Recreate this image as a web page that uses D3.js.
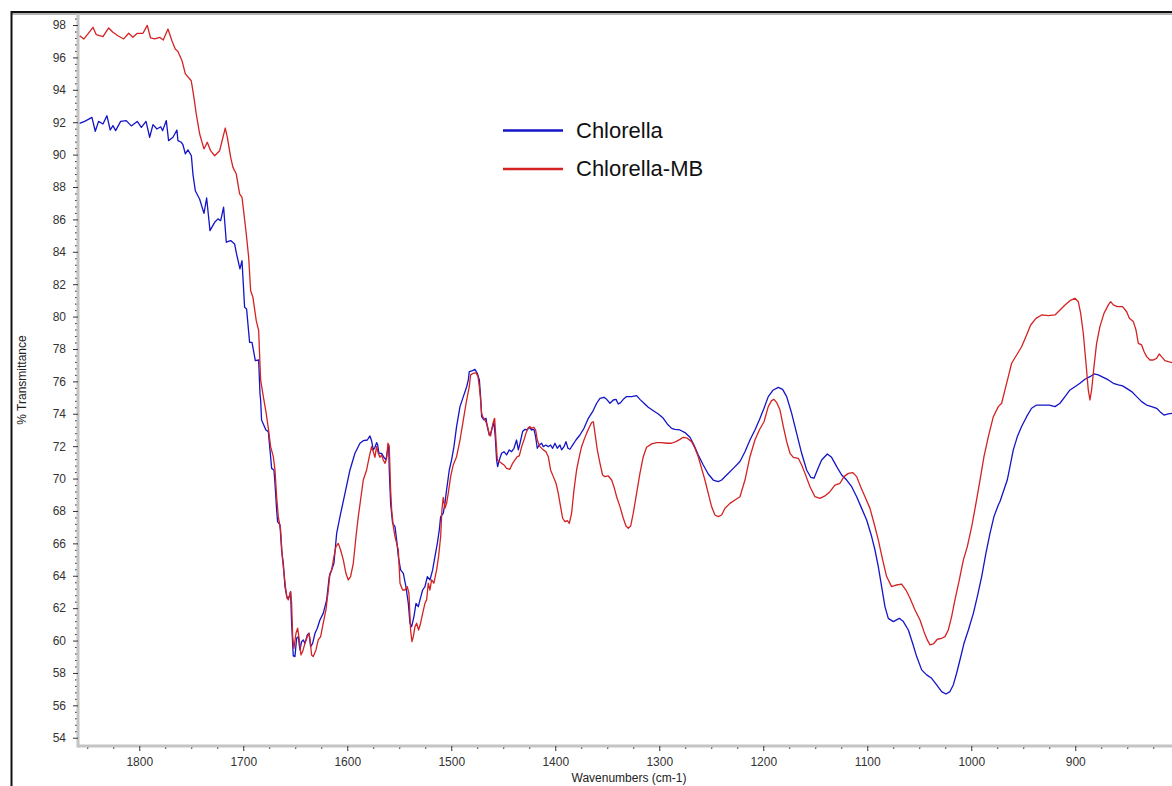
<!DOCTYPE html>
<html>
<head>
<meta charset="utf-8">
<script src="https://cdn.jsdelivr.net/npm/d3@7"></script>
<style>
  body { margin: 0; background: #fff; }
  svg { display: block; }
  text { font-family: Arial, "Liberation Sans", sans-serif; }
</style>
</head>
<body>
<svg id="chart" width="1172" height="786"></svg>
<script>
// FTIR spectra: [wavenumber (cm-1), % transmittance]
const chlorella = [
  [1857.3,91.93],[1852.5,92.05],[1845.5,92.30],[1842.3,91.44],[1839.1,92.05],[1834.9,91.89],
  [1831.1,92.40],[1827.9,91.52],[1825.3,91.79],[1822.7,91.48],[1817.9,92.05],[1812.5,92.10],
  [1807.7,91.77],[1801.9,92.05],[1798.0,91.68],[1793.5,92.05],[1790.0,91.07],[1786.8,91.85],
  [1783.0,91.58],[1779.4,91.72],[1777.5,91.48],[1774.0,92.10],[1771.8,90.86],[1767.6,91.07],
  [1763.8,91.52],[1762.8,90.86],[1759.6,90.76],[1758.0,90.61],[1755.7,90.04],[1753.2,90.29],
  [1749.9,89.93],[1748.4,88.80],[1746.1,87.77],[1741.9,87.24],[1737.8,86.37],[1735.2,87.32],
  [1732.0,85.31],[1727.5,85.82],[1724.3,86.03],[1721.7,85.92],[1718.9,86.75],[1716.3,84.59],
  [1712.1,84.69],[1708.3,84.48],[1706.4,83.86],[1703.2,82.94],[1701.2,83.45],[1698.7,80.57],
  [1696.8,80.47],[1693.9,78.41],[1691.6,78.41],[1688.4,77.28],[1685.2,77.32],[1683.9,75.22],
  [1683.3,74.85],[1682.4,73.62],[1678.2,73.00],[1675.9,72.90],[1674.3,71.77],[1672.7,70.63],
  [1670.5,70.53],[1669.5,69.71],[1667.9,68.06],[1667.0,67.34],[1664.7,67.14],[1663.1,65.59],
  [1661.5,64.77],[1659.9,63.33],[1657.7,62.61],[1655.7,62.71],[1654.5,63.02],[1653.5,61.07],
  [1651.9,59.05],[1650.3,59.01],[1648.7,60.14],[1647.1,60.24],[1645.5,59.42],[1643.9,59.93],
  [1642.3,60.04],[1640.7,59.83],[1638.4,60.35],[1636.8,60.45],[1635.2,59.63],[1633.3,59.83],
  [1631.0,60.45],[1628.8,60.76],[1626.3,61.27],[1623.1,61.68],[1619.8,62.51],[1617.3,63.95],
  [1615.0,64.36],[1612.8,64.77],[1610.2,66.62],[1607.0,67.65],[1602.2,69.09],[1597.4,70.53],
  [1592.6,71.56],[1587.8,72.18],[1584.6,72.34],[1580.7,72.38],[1578.2,72.63],[1576.6,72.34],
  [1575.0,71.77],[1573.4,71.93],[1571.8,72.22],[1570.8,72.08],[1569.5,71.56],[1567.0,71.56],
  [1564.7,71.31],[1562.8,71.15],[1561.5,71.66],[1560.2,72.08],[1559.6,70.53],[1558.3,68.47],
  [1556.4,67.24],[1554.1,67.03],[1552.5,66.21],[1550.9,65.18],[1548.7,64.36],[1546.1,64.15],
  [1543.6,63.33],[1541.3,62.30],[1539.7,61.07],[1538.1,60.86],[1535.9,61.48],[1533.9,62.30],
  [1531.7,62.09],[1530.1,62.51],[1527.5,63.12],[1525.3,63.33],[1523.0,63.95],[1520.5,63.74],
  [1517.9,64.36],[1515.7,65.18],[1513.4,66.00],[1511.5,66.83],[1510.2,67.65],[1507.7,67.86],
  [1506.1,68.47],[1504.5,69.30],[1501.9,70.53],[1499.7,71.15],[1497.4,71.97],[1494.9,73.21],
  [1491.6,74.44],[1488.4,75.06],[1485.2,75.67],[1483.6,76.09],
  [1482.7,76.60],[1479.5,76.66],[1477.2,76.74],[1475.0,76.50],[1473.0,76.09],[1471.8,75.06],
  [1470.8,73.82],[1468.6,73.62],[1466.6,73.72],[1465.4,73.21],[1463.4,72.69],[1462.2,72.79],
  [1460.2,73.21],[1459.0,73.51],[1457.7,72.59],[1456.4,71.15],[1455.4,70.74],[1453.8,71.15],
  [1451.6,71.56],[1449.3,71.66],[1446.8,71.46],[1444.2,71.77],[1442.0,71.66],[1439.7,71.87],
  [1437.2,72.38],[1435.5,71.77],[1433.9,72.18],[1431.4,72.90],[1429.1,73.04],[1426.9,73.00],
  [1425.0,73.17],[1422.7,73.00],[1420.5,73.04],[1418.9,72.59],[1417.3,71.87],[1415.4,72.07],
  [1413.1,72.18],[1411.5,71.97],[1409.0,72.07],[1406.7,71.97],[1404.5,72.07],[1402.5,71.87],
  [1400.3,72.18],[1398.1,71.87],[1395.5,72.07],[1393.9,71.77],[1391.6,71.97],[1389.7,72.28],
  [1387.8,71.87],[1385.9,71.81],[1383.3,72.07],[1380.1,72.38],[1376.3,72.69],[1372.4,73.10],
  [1368.2,73.72],[1364.1,74.13],[1360.2,74.65],[1357.0,74.95],[1353.2,75.02],[1350.6,74.89],
  [1347.4,74.65],[1344.2,74.85],[1341.6,74.89],[1339.4,74.60],[1337.2,74.69],[1334.6,74.89],
  [1331.4,75.06],[1326.6,75.06],[1321.8,75.12],[1318.6,74.89],[1314.7,74.65],[1310.6,74.40],
  [1305.7,74.19],[1300.9,73.99],[1296.1,73.72],[1292.3,73.37],[1288.1,73.10],[1284.9,73.04],
  [1280.1,73.00],[1275.3,72.84],[1270.5,72.55],[1266.6,72.07],[1262.5,71.46],[1257.7,70.84],
  [1252.9,70.28],[1248.1,69.91],[1243.3,69.81],[1240.0,69.91],[1235.2,70.22],[1228.8,70.63],
  [1222.4,71.05],[1217.6,71.66],[1212.8,72.38],[1208.0,73.00],[1203.8,73.62],
  [1199.3,74.34],[1195.2,75.06],[1190.4,75.47],[1185.5,75.63],[1181.4,75.51],[1177.5,75.06],
  [1172.7,74.03],[1167.9,72.79],[1163.1,71.56],[1158.3,70.53],[1154.4,70.08],[1151.2,70.02],
  [1148.0,70.53],[1143.9,71.15],[1138.4,71.52],[1134.3,71.31],[1129.4,70.74],[1124.6,70.22],
  [1119.8,69.91],[1115.0,69.50],[1110.2,68.88],[1105.4,68.16],[1100.6,67.44],[1095.8,66.42],
  [1092.6,65.59],[1089.4,64.56],[1086.2,63.33],[1083.0,62.09],[1079.8,61.37],[1074.9,61.17],
  [1069.2,61.37],[1065.3,61.17],[1060.5,60.65],[1056.4,59.83],[1052.5,59.01],[1047.7,58.19],
  [1042.9,57.88],[1038.1,57.67],[1033.3,57.26],[1028.5,56.85],[1024.3,56.70],[1020.5,56.85],
  [1017.3,57.26],[1014.1,57.98],[1010.9,58.80],[1007.0,59.83],[1002.8,60.65],[998.0,61.68],
  [994.2,62.71],[990.0,63.95],[985.9,65.39],[982.0,66.62],[978.2,67.65],[974.0,68.37],
  [972.4,68.58],[965.4,69.91],[962.8,70.74],[959.6,71.77],[955.7,72.59],[951.6,73.21],
  [946.8,73.82],[942.0,74.34],[937.2,74.54],[930.7,74.54],[925.0,74.54],[919.5,74.44],
  [914.7,74.65],[909.9,75.06],[905.1,75.47],[900.3,75.67],[895.5,75.88],[890.7,76.13],
  [885.9,76.29],[882.0,76.46],[877.9,76.40],[873.1,76.25],[868.2,76.09],[863.4,75.88],
  [858.6,75.78],[854.5,75.72],[850.6,75.57],[845.8,75.37],[841.0,75.06],[836.2,74.75],
  [831.4,74.54],[826.6,74.44],[821.8,74.34],[818.6,74.13],[814.7,73.92],[810.6,73.99],
  [807.0,74.03]
];

const chlorellaMB = [
  [1857.3,97.34],[1853.2,97.14],[1849.3,97.45],[1844.5,97.86],[1841.3,97.40],[1834.9,97.28],
  [1829.4,97.82],[1825.3,97.55],[1820.5,97.34],[1815.0,97.14],[1810.2,97.49],[1806.1,97.24],
  [1801.9,97.49],[1796.4,97.49],[1792.3,97.98],[1789.1,97.20],[1785.2,97.14],[1780.4,97.24],
  [1776.9,97.07],[1772.4,97.75],[1768.6,97.03],[1765.4,96.52],[1762.8,96.37],[1758.9,95.80],
  [1755.7,94.98],[1750.0,94.56],[1747.7,93.64],[1745.2,92.51],[1741.9,91.27],[1737.8,90.35],
  [1734.6,90.76],[1731.4,90.24],[1727.5,89.93],[1722.7,90.24],[1719.5,91.07],[1717.3,91.64],
  [1715.3,91.07],[1712.1,89.83],[1709.9,89.21],[1706.7,88.80],[1703.5,87.57],[1701.2,87.36],
  [1699.3,86.33],[1697.1,85.10],[1694.8,83.66],[1692.9,81.60],[1690.7,81.19],[1687.5,79.75],
  [1685.2,79.13],
  [1683.3,76.09],[1680.7,75.06],[1678.2,74.13],[1675.9,73.10],[1673.7,71.97],[1671.1,71.35],
  [1669.5,70.53],[1667.9,68.88],[1666.3,67.65],[1664.1,66.83],[1662.5,65.18],[1660.5,63.95],
  [1658.3,62.71],[1656.7,62.51],[1654.5,63.02],[1653.5,62.30],[1652.5,60.24],[1651.3,59.52],
  [1649.3,60.45],[1647.7,60.76],[1646.1,60.04],[1644.5,59.11],[1642.9,59.32],[1640.7,59.83],
  [1638.4,60.24],[1636.8,60.45],[1635.9,60.14],[1634.3,59.11],[1632.7,59.01],[1630.1,59.42],
  [1627.9,60.04],[1625.6,60.24],[1623.1,61.07],[1620.5,61.89],[1618.2,63.12],[1616.6,64.15],
  [1615.0,64.36],[1612.8,65.18],[1610.9,65.80],[1608.6,66.00],[1606.4,65.59],[1603.8,64.98],
  [1601.3,64.15],[1599.0,63.74],[1596.8,63.95],[1594.2,64.77],[1591.6,66.42],[1589.4,67.65],
  [1587.2,68.68],[1584.6,69.91],[1581.4,70.53],[1578.8,71.35],[1576.6,71.97],[1575.0,71.66],
  [1573.4,71.31],[1571.8,71.97],[1570.2,71.56],[1568.6,71.31],[1567.0,71.46],[1565.4,71.15],
  [1563.7,70.94],[1562.1,71.25],[1560.9,72.18],[1559.6,71.97],[1558.3,69.30],[1557.3,68.06],
  [1555.7,67.03],[1554.1,66.42],[1552.5,66.00],[1550.9,65.59],[1549.3,63.54],[1546.8,63.12],
  [1544.5,63.12],[1542.3,63.33],[1540.7,62.92],[1539.1,60.65],[1537.8,59.93],[1536.5,60.24],
  [1534.9,60.86],[1533.3,61.07],[1531.4,60.65],[1529.5,61.07],[1527.5,61.68],[1525.3,62.30],
  [1523.7,62.51],[1522.1,63.54],[1520.5,63.12],[1518.9,63.74],[1516.7,63.54],[1514.1,64.36],
  [1512.2,65.18],[1510.2,66.42],[1509.0,68.06],[1507.7,68.84],[1506.1,68.17],[1504.5,68.47],
  [1502.9,69.09],[1500.6,70.12],[1498.1,70.84],[1494.9,71.35],[1491.6,72.38],[1488.4,73.62],
  [1485.2,74.85],[1482.7,75.67],
  [1481.4,76.40],[1478.8,76.50],[1476.2,76.54],[1474.3,76.29],[1473.0,75.67],[1471.8,74.85],
  [1470.8,74.03],[1469.8,73.82],[1467.6,73.62],[1465.4,73.31],[1463.4,72.69],[1462.2,72.63],
  [1460.6,73.21],[1459.0,73.62],[1458.3,73.72],[1457.0,72.38],[1455.7,71.15],[1453.8,71.05],
  [1451.6,70.94],[1449.3,70.84],[1446.8,70.63],[1443.6,70.57],[1441.0,70.94],[1438.8,71.15],
  [1436.5,71.35],[1434.6,71.40],[1432.3,71.97],[1430.1,72.38],[1428.2,72.79],[1426.3,73.10],
  [1424.3,73.21],[1422.7,73.10],[1420.5,73.17],[1418.9,73.00],[1417.3,72.38],[1414.7,71.97],
  [1411.5,71.77],[1408.9,71.66],[1406.7,71.35],[1404.5,70.53],[1401.9,70.12],[1399.3,69.71],
  [1397.1,69.09],[1394.9,68.27],[1392.9,67.55],[1390.7,67.34],[1388.4,67.40],[1386.5,67.24],
  [1384.3,67.86],[1382.0,69.30],[1379.5,70.53],[1376.9,71.35],[1374.7,71.97],[1372.4,72.38],
  [1369.9,72.79],[1367.3,73.17],[1365.1,73.45],[1363.4,73.51],[1361.8,72.79],[1359.6,71.77],
  [1357.0,70.94],[1354.5,70.22],[1352.2,70.12],[1349.0,70.16],[1345.8,69.91],[1343.6,69.50],
  [1341.0,68.88],[1337.8,68.27],[1334.6,67.55],[1332.0,67.07],[1329.8,66.93],[1327.5,67.07],
  [1325.0,67.86],[1321.8,69.09],[1318.6,70.32],[1315.4,71.35],[1312.2,71.93],[1307.3,72.14],
  [1302.5,72.22],[1297.7,72.22],[1292.9,72.18],[1288.1,72.18],[1284.0,72.28],[1280.1,72.42],
  [1276.9,72.55],[1273.1,72.49],[1268.9,72.28],[1265.7,71.87],[1262.5,71.35],[1259.3,70.63],
  [1256.1,69.91],[1252.9,69.09],[1249.7,68.27],[1246.5,67.75],[1243.3,67.65],[1240.0,67.75],
  [1236.8,68.17],[1232.0,68.47],[1227.2,68.68],[1222.4,68.88],[1217.6,69.91],[1212.8,71.35],
  [1208.0,72.38],[1203.8,73.00],
  [1199.3,73.51],[1195.2,74.44],[1192.0,74.81],[1189.7,74.89],[1187.1,74.69],[1183.9,74.23],
  [1180.7,73.21],[1177.5,72.28],[1174.3,71.56],[1171.1,71.31],[1166.3,71.25],[1163.1,70.84],
  [1159.9,70.32],[1155.1,69.50],[1150.3,68.88],[1145.5,68.78],[1140.7,68.93],[1135.9,69.19],
  [1131.1,69.60],[1126.2,69.71],[1122.4,70.12],[1118.2,70.32],[1114.1,70.37],[1110.2,70.12],
  [1106.4,69.50],[1102.2,68.88],[1097.4,68.16],[1093.5,67.24],[1089.4,66.21],[1085.2,64.98],
  [1081.4,63.95],[1076.6,63.33],[1071.8,63.43],[1067.0,63.49],[1062.8,63.12],[1058.9,62.61],
  [1054.1,61.89],[1049.3,61.27],[1045.5,60.55],[1042.3,60.04],[1039.7,59.73],[1036.5,59.79],
  [1032.6,60.08],[1028.5,60.14],[1025.3,60.24],[1022.1,60.65],[1018.9,61.48],[1015.7,62.51],
  [1011.5,63.74],[1007.6,64.98],[1003.8,65.80],[999.6,67.03],[995.5,68.47],[991.6,69.91],
  [987.8,71.35],[983.6,72.59],[978.8,73.82],[974.0,74.44],
  [970.8,74.65],[967.6,75.47],[964.4,76.29],[961.2,77.12],[956.4,77.63],[951.6,78.14],
  [946.8,78.86],[942.9,79.48],[937.8,79.89],[932.3,80.10],[925.9,80.06],[919.5,80.10],
  [914.7,80.41],[909.9,80.72],[905.1,80.98],[900.3,81.13],[897.1,80.92],[894.8,80.20],
  [892.3,78.97],[889.7,77.12],[887.5,75.47],[885.9,74.85],[884.3,75.47],[882.0,76.91],
  [879.5,78.35],[876.3,79.38],[872.4,80.20],[868.2,80.72],[866.0,80.92],[863.4,80.72],
  [859.6,80.61],[854.5,80.61],[850.6,80.30],[848.0,79.89],[844.2,79.69],[841.6,79.17],
  [839.4,78.35],[836.2,78.25],[833.9,77.84],[831.4,77.53],[828.2,77.32],[825.0,77.32],
  [821.8,77.42],[819.3,77.69],[817.1,77.53],[813.8,77.28],[810.6,77.22],[807.0,77.16]
];

const seriesNames = ["Chlorella", "Chlorella-MB"];
const seriesColors = ["#1414c8", "#d42222"];
const xTicks = [1800, 1700, 1600, 1500, 1400, 1300, 1200, 1100, 1000, 900];
const yTicks = [54,56,58,60,62,64,66,68,70,72,74,76,78,80,82,84,86,88,90,92,94,96,98];
const xLabel = "Wavenumbers (cm-1)";
const yLabel = "% Transmittance";

const svg = d3.select("#chart");
const W = 1172, H = 786;
const plot = { left: 78, right: 1172, top: 14, bottom: 746 };

// Wavenumber axis runs high-to-low, as is usual for IR spectra
const x = d3.scaleLinear().domain([1858.9, 807]).range([plot.left, plot.right]);
const y = d3.scaleLinear().domain([53.49, 98.68]).range([plot.bottom, plot.top]);

// Outer frame (left and top edges)
svg.append("line").attr("x1", 11).attr("x2", W).attr("y1", 14).attr("y2", 14)
  .attr("stroke", "#9a9a9a").attr("stroke-width", 1.5);
svg.append("line").attr("x1", 11).attr("x2", W).attr("y1", 12).attr("y2", 12)
  .attr("stroke", "#111").attr("stroke-width", 2);
svg.append("line").attr("x1", 11.5).attr("x2", 11.5).attr("y1", 11).attr("y2", H)
  .attr("stroke", "#111").attr("stroke-width", 2);

// Clip for the spectra
svg.append("defs").append("clipPath").attr("id", "plotClip")
  .append("rect").attr("x", plot.left + 1).attr("y", plot.top)
  .attr("width", plot.right - plot.left).attr("height", plot.bottom - plot.top - 1);

// Minor ticks
const xMinor = d3.range(825, 1860, 25).filter(v => v % 100 !== 0);
const yMinor = d3.range(0, 112).map(i => +(54 + i * 0.4).toFixed(1)).filter(v => v <= 98.6 && Math.abs(v / 2 - Math.round(v / 2)) > 1e-6);

const gxMinor = svg.append("g").attr("transform", `translate(0,${plot.bottom})`)
  .call(d3.axisBottom(x).tickValues(xMinor).tickSize(3).tickFormat(""));
const gyMinor = svg.append("g").attr("transform", `translate(${plot.left},0)`)
  .call(d3.axisLeft(y).tickValues(yMinor).tickSize(3).tickFormat(""));
[gxMinor, gyMinor].forEach(g => {
  g.select(".domain").remove();
  g.selectAll("line").attr("stroke", "#333").attr("stroke-width", 1);
});

// Axis lines
svg.append("line").attr("x1", plot.left).attr("x2", plot.right)
  .attr("y1", plot.bottom).attr("y2", plot.bottom)
  .attr("stroke", "#c4c4c4").attr("stroke-width", 3);
svg.append("line").attr("x1", plot.left).attr("x2", plot.left)
  .attr("y1", plot.top).attr("y2", plot.bottom + 1.5)
  .attr("stroke", "#c4c4c4").attr("stroke-width", 3);

// Major ticks + labels
const gx = svg.append("g").attr("transform", `translate(0,${plot.bottom})`)
  .call(d3.axisBottom(x).tickValues(xTicks).tickSize(5).tickPadding(6).tickFormat(d3.format("d")));
const gy = svg.append("g").attr("transform", `translate(${plot.left},0)`)
  .call(d3.axisLeft(y).tickValues(yTicks).tickSize(5).tickPadding(7).tickFormat(d3.format("d")));
[gx, gy].forEach(g => {
  g.select(".domain").remove();
  g.selectAll("line").attr("stroke", "#333").attr("stroke-width", 1);
  g.selectAll("text").attr("fill", "#333").style("font-size", "12px")
    .style("font-family", "Arial, 'Liberation Sans', sans-serif");
});

// Axis titles
svg.append("text").attr("x", 629).attr("y", 782).attr("text-anchor", "middle")
  .attr("fill", "#222").style("font-size", "12px").text(xLabel);
svg.append("text").attr("transform", "translate(26,380) rotate(-90)")
  .attr("text-anchor", "middle").attr("fill", "#222").style("font-size", "12px").text(yLabel);

// Spectra
const line = d3.line().x(d => x(d[0])).y(d => y(d[1]));
const gLines = svg.append("g").attr("clip-path", "url(#plotClip)");
[chlorella, chlorellaMB].forEach((data, i) => {
  gLines.append("path").datum(data)
    .attr("fill", "none").attr("stroke", seriesColors[i])
    .attr("stroke-width", 1.3).attr("stroke-linejoin", "round")
    .attr("d", line);
});

// Legend
const legend = svg.append("g").attr("transform", "translate(503,130.5)");
seriesNames.forEach((name, i) => {
  const row = legend.append("g").attr("transform", `translate(0,${i * 38.5})`);
  row.append("line").attr("x1", 0).attr("x2", 60).attr("y1", 0).attr("y2", 0)
    .attr("stroke", seriesColors[i]).attr("stroke-width", 2.5);
  row.append("text").attr("x", 73).attr("y", 7).attr("fill", "#111")
    .style("font-size", "22px").text(name);
});
</script>
</body>
</html>
